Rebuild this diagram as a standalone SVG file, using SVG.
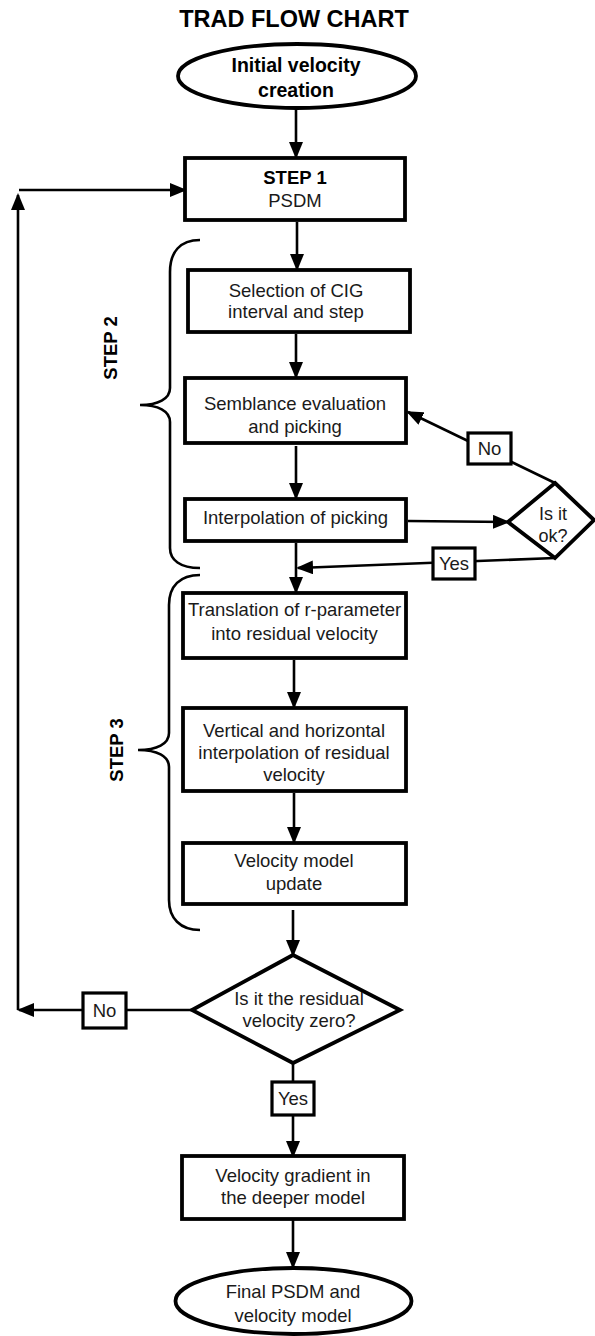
<svg xmlns="http://www.w3.org/2000/svg" width="595" height="1336" viewBox="0 0 595 1336">
<style>
.bg{fill:#fff}
.box{fill:#fff;stroke:#000;stroke-width:3.8}
.lbl{fill:#fff;stroke:#000;stroke-width:3.2}
.ln{fill:none;stroke:#000;stroke-width:2.6}
.br{fill:none;stroke:#000;stroke-width:2.6}
text{font-family:"Liberation Sans",Arial,sans-serif;font-size:18.5px;fill:#1a1a1a;text-anchor:middle}
.b{font-weight:bold;fill:#000}
.t{font-size:23.5px}
.i{font-size:19.5px}
.s{font-size:18px}
</style>
<defs>
<marker id="ah" markerUnits="userSpaceOnUse" markerWidth="17" markerHeight="14" refX="15" refY="7" orient="auto">
<path d="M0,0 L17,7 L0,14 z" fill="#000"/>
</marker>
</defs>
<rect class="bg" x="0" y="0" width="595" height="1336"/>
<text class="b t" x="294" y="27">TRAD FLOW CHART</text>

<g id="connectors">
<line class="ln" x1="296" y1="108" x2="296" y2="157" marker-end="url(#ah)"/>
<line class="ln" x1="297" y1="222" x2="297" y2="269" marker-end="url(#ah)"/>
<line class="ln" x1="296" y1="334" x2="296" y2="377" marker-end="url(#ah)"/>
<line class="ln" x1="296" y1="446" x2="296" y2="498" marker-end="url(#ah)"/>
<line class="ln" x1="408" y1="521" x2="508" y2="522" marker-end="url(#ah)"/>
<line class="ln" x1="555" y1="483" x2="408" y2="412" marker-end="url(#ah)"/>
<line class="ln" x1="555" y1="558" x2="298" y2="568" marker-end="url(#ah)"/>
<line class="ln" x1="296" y1="543" x2="296" y2="592" marker-end="url(#ah)"/>
<line class="ln" x1="294" y1="660" x2="294" y2="707" marker-end="url(#ah)"/>
<line class="ln" x1="294" y1="793" x2="294" y2="842" marker-end="url(#ah)"/>
<line class="ln" x1="293" y1="910" x2="293" y2="955" marker-end="url(#ah)"/>
<line class="ln" x1="192" y1="1010" x2="19" y2="1010" marker-end="url(#ah)"/>
<line class="ln" x1="18" y1="1010" x2="18" y2="195" marker-end="url(#ah)"/>
<line class="ln" x1="19" y1="190" x2="185" y2="190" marker-end="url(#ah)"/>
<line class="ln" x1="293" y1="1063" x2="293" y2="1156" marker-end="url(#ah)"/>
<line class="ln" x1="293" y1="1220" x2="293" y2="1267" marker-end="url(#ah)"/>
</g>

<g id="braces">
<path class="br" d="M200,240 C180,240 170,252 170,272 L170,388 C170,399 158,405 140,405 C158,405 170,411 170,422 L170,548 C170,560 180,568 200,568"/>
<text class="b" transform="translate(117,348) rotate(-90)">STEP 2</text>
<path class="br" d="M200,575 C180,575 169,586 169,605 L169,733 C169,744 157,750 138,750 C157,750 169,756 169,767 L169,900 C169,918 180,930 200,930"/>
<text class="b" transform="translate(123,750) rotate(-90)">STEP 3</text>
</g>

<g id="n-initial">
<ellipse class="box" cx="297" cy="76" rx="119" ry="32"/>
<text class="b i" x="296" y="72">Initial velocity</text>
<text class="b i" x="296" y="97">creation</text>
</g>
<g id="n-step1">
<rect class="box" x="185" y="158" width="220" height="62"/>
<text class="b" x="295" y="184">STEP 1</text>
<text x="295" y="207">PSDM</text>
</g>
<g id="n-selection">
<rect class="box" x="188" y="270" width="222" height="62"/>
<text x="296" y="297">Selection of CIG</text>
<text x="296" y="318">interval and step</text>
</g>
<g id="n-semblance">
<rect class="box" x="185" y="378" width="221" height="65"/>
<text x="295" y="410">Semblance evaluation</text>
<text x="295" y="433">and picking</text>
</g>
<g id="n-interp">
<rect class="box" x="185" y="499" width="221" height="42"/>
<text x="295.5" y="524">Interpolation of picking</text>
</g>
<g id="n-ok">
<polygon class="box" points="555,483 594,520 555,558 508,522"/>
<text class="s" x="553" y="520">Is it</text>
<text class="s" x="553" y="542">ok?</text>
</g>
<g id="l-no1">
<rect class="lbl" x="468" y="433" width="43" height="31"/>
<text x="489.5" y="455">No</text>
</g>
<g id="l-yes1">
<rect class="lbl" x="433" y="548" width="42" height="31"/>
<text x="454" y="570">Yes</text>
</g>
<g id="n-translation">
<rect class="box" x="183" y="593" width="223" height="65"/>
<text x="294.5" y="616">Translation of r-parameter</text>
<text x="294.5" y="640">into residual velocity</text>
</g>
<g id="n-vertical">
<rect class="box" x="183" y="708" width="223" height="83"/>
<text x="294" y="737">Vertical and horizontal</text>
<text x="294" y="759">interpolation of residual</text>
<text x="294" y="781">velocity</text>
</g>
<g id="n-update">
<rect class="box" x="183" y="843" width="223" height="61"/>
<text x="294" y="867">Velocity model</text>
<text x="294" y="890">update</text>
</g>
<g id="n-zero">
<polygon class="box" points="293,955 400,1010 293,1063 192,1010"/>
<text x="299" y="1005">Is it the residual</text>
<text x="299" y="1027">velocity zero?</text>
</g>
<g id="l-no2">
<rect class="lbl" x="83" y="993" width="43" height="35"/>
<text x="104.5" y="1017">No</text>
</g>
<g id="l-yes2">
<rect class="lbl" x="272" y="1082" width="42" height="33"/>
<text x="293" y="1105">Yes</text>
</g>
<g id="n-gradient">
<rect class="box" x="182" y="1156" width="222" height="63"/>
<text x="293" y="1182">Velocity gradient in</text>
<text x="293" y="1204">the deeper model</text>
</g>
<g id="n-final">
<ellipse class="box" cx="293.5" cy="1301" rx="118" ry="33"/>
<text x="293" y="1298">Final PSDM and</text>
<text x="293" y="1322">velocity model</text>
</g>
</svg>
